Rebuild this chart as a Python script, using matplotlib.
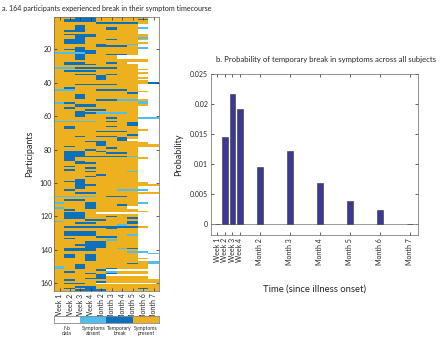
import numpy as np
import matplotlib
matplotlib.use('Agg')
import matplotlib.pyplot as plt
from matplotlib.colors import ListedColormap, BoundaryNorm

plt.rcParams['font.family'] = ['Lato', 'DejaVu Sans']

# ---------------- data ----------------
timepoints = ['Week 1', 'Week 2', 'Week 3', 'Week 4', 'Month 2',
              'Month 3', 'Month 4', 'Month 5', 'Month 6', 'Month 7']
state_names = ['No\ndata', 'Symptoms\nabsent', 'Temporary\nbreak', 'Symptoms\npresent']
state_colors = ['#ffffff', '#4dbeee', '#0b71bd', '#edb120']

# one string per participant, one digit per timepoint:
# 0 = no data, 1 = symptoms absent, 2 = temporary break, 3 = symptoms present
participant_rows = [
    "3322333330", "3222333320", "3222333330", "3333222230", "3333333300",
    "3323333300", "3323323310", "3323323300", "3223333300", "3333333300",
    "3222333330", "3322333330", "3323333310", "3223323330", "3223333300",
    "3223333330", "3333233100", "3333222300", "3323333310", "3223333300",
    "3322333300", "1112333300", "3323322300", "3323330000", "3323330000",
    "3323333330", "3333333330", "3223323000", "3222333300", "3333333300",
    "1122223300", "3333333330", "3222333300", "3333333330", "3322323300",
    "3333233300", "3333233330", "3333233300", "3333333330", "3333333332",
    "3322223300", "3333333300", "3233333300", "1133222300", "3333333330",
    "3333333200", "3323333300", "3323333300", "3323333300", "3333221130",
    "3333333310", "1233333310", "3322333330", "3322333300", "3233333300",
    "3332233300", "3323333300", "3322111300", "3323333300", "3323333300",
    "3333323311", "3333333300", "1111323300", "3333333200", "3333333200",
    "3233323300", "3233333300", "3333333330", "3333222300", "3333333300",
    "3333333200", "3323223300", "3333332300", "3333332000", "3332233300",
    "3333233330", "3333233333", "3233333333", "3333323300", "3332333300",
    "3223233300", "3223322300", "3223333300", "3222222100", "3233333330",
    "3233333300", "3323333300", "3322333300", "3333333300", "3233333300",
    "3332333300", "3233333300", "3332333100", "3333333300", "3333233300",
    "3332333300", "3333333300", "3323333300", "3223333300", "3323333330",
    "3322333333", "3323333300", "3323333300", "3233331110", "3333333300",
    "3322333333", "3333333300", "1111322300", "3333333300", "3223333300",
    "3333333300", "1332333310", "3332332300", "3332333000", "1332333000",
    "3233333300", "3333333330", "3223000000", "3223333300", "3223323300",
    "3223333200", "3332233300", "1333333200", "3322333200", "3333331300",
    "3222222230", "3333323300", "3333333300", "3222333300", "3222333300",
    "3222333100", "3333223300", "3233333300", "3333313300", "3332233300",
    "3332233300", "3322233300", "3332233300", "3222331200", "3222333300",
    "3333333110", "3333333301", "3232333300", "3232333300", "3332333330",
    "3332333300", "3333333331", "3333333231", "3323333330", "1323333330",
    "1323323330", "3333200000", "3233313330", "3332323330", "3333200000",
    "3333233330", "3332233330", "3233333333", "3333233333", "3223000000",
    "3333333333", "3322333333", "3232333323", "3322233333",
]

break_probability = [0.0, 0.0144, 0.0217, 0.0192, 0.0095,
                     0.0122, 0.0068, 0.0039, 0.0024, 0.0]

# ---------------- figure ----------------
fig = plt.figure(figsize=(4.4, 3.37), dpi=100)
txt = '#262626'
spine_c = '#666666'

states = np.array([[int(c) for c in r] for r in participant_rows])
n_part = states.shape[0]
cmap = ListedColormap(state_colors)
norm = BoundaryNorm(np.arange(-0.5, 4.5, 1), cmap.N)

ax1 = fig.add_axes([0.1234, 0.1374, 0.238, 0.813])
ax1.imshow(states, cmap=cmap, norm=norm, aspect='auto', interpolation='nearest',
           extent=[0.5, len(timepoints) + 0.5, n_part + 0.5, 0.5])
ax1.set_yticks(range(20, 161, 20))
ax1.set_xticks(range(1, len(timepoints) + 1))
ax1.set_xticklabels(timepoints, rotation=90, fontsize=3.6, color=txt)
ax1.tick_params(direction='in', top=True, right=True, length=2, width=0.5,
                labelsize=5, colors=txt, pad=1.5)
ax1.tick_params(axis='x', pad=2)
for s in ax1.spines.values():
    s.set_color(spine_c)
    s.set_linewidth(0.5)
ax1.set_ylabel('Participants', fontsize=6.5, color=txt, labelpad=4)

fig.text(0.004, 0.976, 'a. 164 participants experienced break in their symptom timecourse',
         fontsize=5.15, color=txt, ha='left', va='center')

# legend colour strip
axl = fig.add_axes([0.1227, 0.0424, 0.2386, 0.0208])
axl.imshow(np.arange(4)[None, :], cmap=cmap, norm=norm, aspect='auto',
           interpolation='nearest', extent=[-0.5, 3.5, 0, 1])
axl.set_xticks([]); axl.set_yticks([])
for s in axl.spines.values():
    s.set_color('#888888'); s.set_linewidth(0.6)
for i, name in enumerate(state_names):
    axl.text(i, -0.45, name, transform=axl.transData, ha='center', va='top',
             fontsize=3.7, color=txt, linespacing=1.15)

# right panel: bar chart
positions = [0.583, 0.833, 1.083, 1.333, 2, 3, 4, 5, 6, 7]
ax2 = fig.add_axes([0.4795, 0.3027, 0.4705, 0.4786])
ax2.bar(positions, break_probability, width=0.18, color='#3b3995',
        edgecolor='#4a4a4a', linewidth=0.5, zorder=3)
ax2.axhline(0, color='#8a8a8a', linewidth=0.6, zorder=2)
ax2.set_ylim(-0.0018, 0.025)
ax2.set_xlim(0.367, 7.267)
yt = [0, 0.005, 0.01, 0.015, 0.02, 0.025]
ax2.set_yticks(yt)
ax2.set_yticklabels(['0', '0.005', '0.01', '0.015', '0.02', '0.025'])
ax2.set_xticks(positions)
ax2.set_xticklabels(timepoints, rotation=90, fontsize=5.2, color=txt)
ax2.tick_params(direction='in', top=True, right=True, length=2, width=0.5,
                labelsize=5, colors=txt, pad=2)
for s in ax2.spines.values():
    s.set_color(spine_c)
    s.set_linewidth(0.5)
ax2.set_ylabel('Probability', fontsize=6.5, color=txt, labelpad=5)
ax2.set_xlabel('Time (since illness onset)', fontsize=6.8, color=txt, labelpad=14)

fig.text(0.49, 0.822, 'b. Probability of temporary break in symptoms across all subjects',
         fontsize=5.55, color=txt, ha='left', va='center')

fig.savefig('out.png', dpi=100)
